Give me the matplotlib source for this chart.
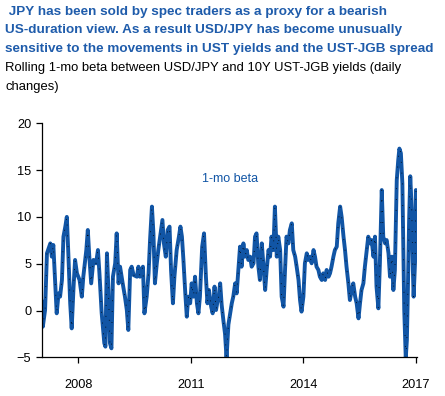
import matplotlib
matplotlib.use('Agg')
import matplotlib.pyplot as plt

plt.rcParams['font.family'] = ['Liberation Sans', 'DejaVu Sans']

title_lines = [" JPY has been sold by spec traders as a proxy for a bearish",
               "US-duration view. As a result USD/JPY has become unusually",
               "sensitive to the movements in UST yields and the UST-JGB spread"]
subtitle_lines = ["Rolling 1-mo beta between USD/JPY and 10Y UST-JGB yields (daily",
                  "changes)"]
series_label = "1-mo beta"
yticks = [-5, 0, 5, 10, 15, 20]
xticks = [2008, 2011, 2014, 2017]

years = [2007.02, 2007.05, 2007.11, 2007.16, 2007.25, 2007.29, 2007.33, 2007.38, 2007.42, 2007.47,
         2007.51, 2007.56, 2007.60, 2007.65, 2007.69, 2007.73, 2007.78, 2007.82, 2007.87, 2007.91,
         2007.96, 2008.03, 2008.09, 2008.13, 2008.21, 2008.25, 2008.29, 2008.34, 2008.40, 2008.47,
         2008.52, 2008.56, 2008.62, 2008.69, 2008.72, 2008.76, 2008.80, 2008.84, 2008.88, 2008.92,
         2008.98, 2009.02, 2009.07, 2009.11, 2009.18, 2009.24, 2009.29, 2009.33, 2009.38, 2009.42,
         2009.47, 2009.56, 2009.60, 2009.64, 2009.72, 2009.76, 2009.82, 2009.87, 2009.91, 2009.96,
         2010.00, 2010.04, 2010.09, 2010.13, 2010.18, 2010.24, 2010.28, 2010.33, 2010.38, 2010.43,
         2010.47, 2010.52, 2010.56, 2010.62, 2010.68, 2010.72, 2010.76, 2010.80, 2010.85, 2010.89,
         2010.93, 2010.98, 2011.02, 2011.07, 2011.11, 2011.16, 2011.20, 2011.24, 2011.30, 2011.35,
         2011.40, 2011.44, 2011.48, 2011.54, 2011.58, 2011.63, 2011.67, 2011.70, 2011.74, 2011.78,
         2011.82, 2011.87, 2011.91, 2011.95, 2012.00, 2012.04, 2012.09, 2012.13, 2012.18, 2012.22,
         2012.27, 2012.31, 2012.35, 2012.40, 2012.44, 2012.49, 2012.53, 2012.58, 2012.62, 2012.67,
         2012.71, 2012.75, 2012.80, 2012.84, 2012.89, 2012.93, 2012.98, 2013.02, 2013.07, 2013.11,
         2013.15, 2013.20, 2013.24, 2013.29, 2013.33, 2013.38, 2013.42, 2013.47, 2013.51, 2013.55,
         2013.60, 2013.64, 2013.69, 2013.73, 2013.78, 2013.82, 2013.87, 2013.91, 2013.95, 2014.00,
         2014.04, 2014.09, 2014.13, 2014.18, 2014.22, 2014.27, 2014.31, 2014.35, 2014.40, 2014.44,
         2014.49, 2014.53, 2014.58, 2014.62, 2014.67, 2014.71, 2014.75, 2014.80, 2014.84, 2014.89,
         2014.93, 2014.98, 2015.02, 2015.07, 2015.11, 2015.15, 2015.20, 2015.24, 2015.29, 2015.33,
         2015.38, 2015.42, 2015.47, 2015.51, 2015.55, 2015.60, 2015.64, 2015.69, 2015.73, 2015.78,
         2015.82, 2015.87, 2015.91, 2015.95, 2016.00, 2016.04, 2016.09, 2016.13, 2016.18, 2016.22,
         2016.27, 2016.31, 2016.36, 2016.40, 2016.44, 2016.49, 2016.53, 2016.56, 2016.60, 2016.64,
         2016.67, 2016.69, 2016.73, 2016.76, 2016.78, 2016.82, 2016.85, 2016.89, 2016.92, 2016.94,
         2016.98, 2017.00, 2017.03]

beta = [0.94, -1.73, 0.05, 6.11, 7.17, 5.75, 7.0, 2.9, -0.3, 1.83,
        1.48, 3.26, 7.89, 8.96, 10.0, 6.11, 0.77, -1.91, 2.55, 5.4,
        3.97, 3.26, 1.48, 3.61, 6.46, 8.6, 5.75, 2.9, 5.4, 5.04,
        6.46, 3.97, -0.3, -3.49, -3.86, 6.11, 2.19, -3.49, -4.04, 3.61,
        5.04, 8.24, 2.9, 4.68, 2.9, 1.48, 0.05, -2.08, 4.33, 4.68,
        3.79, 3.61, 4.68, 3.61, 4.68, -0.3, 1.48, 3.97, 7.53, 11.1,
        8.24, 2.9, 5.04, 6.46, 7.89, 9.67, 7.17, 5.75, 8.6, 8.96,
        4.33, 0.77, 3.61, 6.46, 7.89, 8.96, 7.89, 5.4, 1.83, -0.66,
        1.48, 0.77, 2.9, 1.48, 3.61, 0.77, -0.3, 1.48, 6.82, 8.24,
        3.61, 0.77, 2.19, 0.41, -0.3, 2.55, 0.05, 0.77, 1.48, 2.9,
        0.6, -1.2, -2.5, -5.1, -1.5, -0.5, 0.77, 1.48, 2.9, 1.83,
        4.68, 6.82, 4.68, 7.17, 5.75, 6.46, 5.4, 5.75, 4.68, 5.04,
        7.89, 8.24, 4.68, 3.26, 7.17, 5.04, 2.19, 4.33, 6.46, 5.75,
        7.89, 6.46, 11.1, 5.75, 7.89, 6.46, 1.48, 0.41, 4.33, 7.89,
        7.17, 8.6, 9.31, 6.46, 5.75, 4.68, 3.26, 1.12, -0.12, 1.48,
        5.04, 6.11, 5.4, 5.75, 5.04, 6.46, 5.75, 4.68, 4.33, 3.61,
        3.26, 3.97, 3.26, 4.33, 3.61, 3.97, 4.68, 5.75, 6.46, 6.82,
        9.31, 11.1, 10.0, 7.89, 6.46, 4.68, 2.9, 1.12, 2.19, 2.9,
        1.48, 0.77, -0.84, 0.77, 2.19, 2.9, 4.68, 6.46, 7.89, 7.17,
        7.53, 5.75, 7.89, 2.55, 0.23, 5.04, 12.87, 7.89, 7.17, 7.53,
        6.11, 3.61, 5.75, 2.19, 4.33, 13.93, 16.08, 17.3, 16.8, 13.57,
        5.75, 0.05, -5.1, -3.15, 0.77, 9.67, 14.34, 10.74, 4.33, 1.48,
        5.4, 12.87, 11.63]

W, H = 445, 396
fig = plt.figure(figsize=(W / 100, H / 100), dpi=100)
ax = fig.add_axes([41.7 / W, (H - 357.3) / H, (417 - 41.7) / W, (357.3 - 123.3) / H])

line_color = '#1155a5'
title_color = '#1f5cab'

ax.plot(years, beta, color=line_color, lw=2.8, solid_joinstyle='round', zorder=2)
ax.plot(years, beta, color='black', lw=0.6, ls=(0, (1, 12)), zorder=3)

ax.set_xlim(2007.02, 2017.03)
ax.set_ylim(-5, 20)
ax.set_yticks(yticks)
ax.set_xticks(xticks)
ax.set_xticklabels([str(x) for x in xticks])
for s in ['top', 'right']:
    ax.spines[s].set_visible(False)
for s in ['left', 'bottom']:
    ax.spines[s].set_linewidth(0.9)
ax.tick_params(axis='y', direction='out', length=4.5, width=0.9, pad=3, labelsize=9.2)
ax.tick_params(axis='x', direction='out', length=4.5, width=0.9, pad=11, labelsize=9.2)

ax.text(2011.30, 14.05, series_label, color=line_color, fontsize=9, va='center', ha='left')

ys = [12.0, 30.5, 49.0]
for t, y in zip(title_lines, ys):
    fig.text(5 / W, 1 - y / H, t, color=title_color, fontsize=9.7, fontweight='bold',
             va='center', ha='left')
for t, y in zip(subtitle_lines, [68, 87]):
    fig.text(5 / W, 1 - y / H, t, color='black', fontsize=9.4, va='center', ha='left')

fig.savefig('out.png', dpi=100)
